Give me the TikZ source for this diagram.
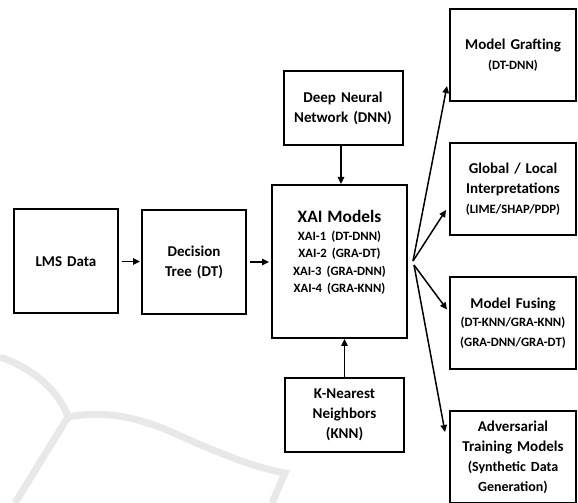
\documentclass[tikz,border=0pt]{standalone}
\usepackage{fontspec}
\setmainfont{Carlito}
\usetikzlibrary{
    arrows.meta
}
\newcommand{\titletxt}{\fontsize{17.4}{21}\selectfont}
\newcommand{\maintxt}{\fontsize{15}{20}\selectfont}
\newcommand{\subtxt}{\fontsize{12.7}{17.5}\selectfont}
\newcommand{\subline}{\par\subtxt}

\begin{document}
\begin{tikzpicture}
        [
            x = 1pt, y = 1pt,
            box/.style = {draw, line width = 2pt, rectangle, inner sep = 0pt, align = center, font = \bfseries\maintxt},
            stage/.style = {box, text width = 100pt, minimum width = 104pt, minimum height = 104pt},
            core/.style = {box, text width = 130pt, minimum width = 135pt, minimum height = 153pt},
            model/.style = {box, text width = 115pt, minimum width = 119pt, minimum height = 74pt},
            result/.style = {box, text width = 124pt, minimum width = 126pt, minimum height = 92pt},
            link/.style = {line width = 1.5pt, -{Triangle[length = 7pt, width = 6.5pt]}},
            logo/.style = {draw = black!9, line width = 7pt}
        ]
        \useasboundingbox (0, 0) rectangle (578, 503);
        % watermark
        \draw[logo] (0, 146) .. controls (35, 134) and (60, 110) .. (68, 86);
        \draw[logo] (68, 86) -- (15, 0);
        \draw[logo] (68, 86) .. controls (100, 92) and (130, 88) .. (167, 73) .. controls (205, 56) and (250, 36) .. (285, 30) -- (272, 0);
        % pipeline
        \node[stage] (lms) at (66, 241.5) {LMS Data};
        \node[stage] (dt) at (194, 241) {Decision\\Tree (DT)};
        \node[core] (xai) at (339.5, 241.5) {\titletxt XAI Models\subline XAI-1 (DT-DNN)\\XAI-2 (GRA-DT)\\XAI-3 (GRA-DNN)\\XAI-4 (GRA-KNN)\\\mbox{}};
        \node[model] (dnn) at (343, 395) {Deep Neural\\Network (DNN)};
        \node[model] (knn) at (344.5, 88) {K-Nearest\\Neighbors\\(KNN)};
        \def\xres{513}
        \node[result] (graft) at (\xres, 448) {Model Grafting\subline (DT-DNN)};
        \node[result] (glob) at (\xres, 313.5) {Global / Local\\Interpretations\subline (LIME/SHAP/PDP)};
        \node[result] (fuse) at (\xres, 180) {Model Fusing\subline (DT-KNN/GRA-KNN)\\(GRA-DNN/GRA-DT)};
        \node[result] (adv) at (\xres, 46) {Adversarial\\Training Models\par\vspace{2pt}\fontsize{14}{18}\selectfont (Synthetic Data\\Generation)};
        % arrows
        \coordinate (fanU) at (413, 242);
        \coordinate (fanL) at (414, 238);
        \draw[link, shorten <= 3pt, shorten >= 1pt] (lms.east) -- (lms.east -| dt.west);
        \draw[link, shorten <= 3pt, shorten >= 2pt] (dt.east) -- (dt.east -| xai.west);
        \draw[link] ([xshift = -2pt]dnn.south) -- ([xshift = -2pt]dnn.south |- xai.north);
        \draw[link] (knn.north) -- (knn.north |- xai.south);
        \draw[link] (fanU) -- ([xshift = -2pt, yshift = -31pt]graft.west);
        \draw[link] (fanU) -- ([xshift = -3pt, yshift = -20.5pt]glob.west);
        \draw[link] (fanL) -- ([xshift = -2pt, yshift = 13.5pt]fuse.west);
        \draw[link] (fanL) -- ([xshift = -4pt, yshift = 25pt]adv.west);
    \end{tikzpicture}
\end{document}
